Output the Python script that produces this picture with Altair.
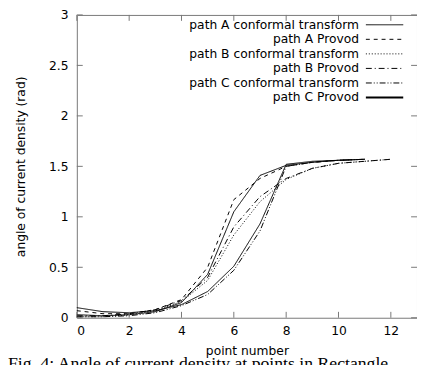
import altair as alt
import pandas as pd

series_names = [
    "path A conformal transform",
    "path A Provod",
    "path B conformal transform",
    "path B Provod",
    "path C conformal transform",
    "path C Provod",
]
x_A = list(range(12))
x_B = list(range(13))
x_C = list(range(12))
a_conf = [0.03, 0.02, 0.03, 0.06, 0.15, 0.43, 1.05, 1.41, 1.51, 1.54, 1.56, 1.57]
a_prov = [0.07, 0.04, 0.04, 0.08, 0.18, 0.50, 1.17, 1.38, 1.50, 1.54, 1.56, 1.57]
b_conf = [0.01, 0.01, 0.03, 0.07, 0.16, 0.37, 0.82, 1.15, 1.37, 1.48, 1.53, 1.55, 1.57]
b_prov = [0.02, 0.02, 0.04, 0.08, 0.17, 0.40, 0.90, 1.20, 1.38, 1.48, 1.53, 1.55, 1.57]
c_conf = [0.01, 0.01, 0.02, 0.05, 0.12, 0.23, 0.47, 0.86, 1.50, 1.54, 1.56, 1.57]
c_prov = [0.10, 0.06, 0.05, 0.07, 0.13, 0.26, 0.51, 0.93, 1.52, 1.55, 1.56, 1.57]

x_ticks = [0, 2, 4, 6, 8, 10, 12]
y_ticks = [0, 0.5, 1, 1.5, 2, 2.5, 3]

dashes = [[1, 0], [4, 4], [1, 2], [6, 3, 1, 3], [6, 2, 1, 2, 1, 2], [1, 0]]
widths = [1, 1, 1, 1, 1, 2]

caption = "Fig. 4: Angle of current density at points in Rectangle"

rows = []
for name, xs, ys in zip(series_names,
                        [x_A, x_A, x_B, x_B, x_C, x_C],
                        [a_conf, a_prov, b_conf, b_prov, c_conf, c_prov]):
    for xv, yv in zip(xs, ys):
        rows.append({"series": name, "x": xv, "y": yv})
df = pd.DataFrame(rows)

W, H = 346, 308
TOP, BOTTOM = 4, 45
FONT = "DejaVu Sans"
FRAME = "#777777"

xscale = alt.Scale(domain=[0, 13], nice=False, zero=False)
yscale = alt.Scale(domain=[0, 3], nice=False, zero=False)
xaxis = alt.Axis(title="point number", values=x_ticks, format="d")
yaxis = alt.Axis(title="angle of current density (rad)", values=y_ticks, format="~g")

lines = alt.Chart(df).mark_line(color="black", strokeCap="butt").encode(
    x=alt.X("x:Q", scale=xscale, axis=xaxis),
    y=alt.Y("y:Q", scale=yscale, axis=yaxis),
    strokeDash=alt.StrokeDash("series:N", scale=alt.Scale(domain=series_names, range=dashes), legend=None),
    strokeWidth=alt.StrokeWidth("series:N", scale=alt.Scale(domain=series_names, range=widths), legend=None),
    detail="series:N",
)

xt = pd.DataFrame({"x": x_ticks})
yt = pd.DataFrame({"y": y_ticks})
TL = 6
tick_bottom = alt.Chart(xt).mark_rule(color=FRAME).encode(
    x=alt.X("x:Q", scale=xscale, axis=xaxis), y=alt.value(H), y2=alt.value(H - TL))
tick_top = alt.Chart(xt).mark_rule(color=FRAME).encode(
    x=alt.X("x:Q", scale=xscale, axis=xaxis), y=alt.value(0), y2=alt.value(TL))
tick_left = alt.Chart(yt).mark_rule(color=FRAME).encode(
    y=alt.Y("y:Q", scale=yscale, axis=yaxis), x=alt.value(0), x2=alt.value(TL))
tick_right = alt.Chart(yt).mark_rule(color=FRAME).encode(
    y=alt.Y("y:Q", scale=yscale, axis=yaxis), x=alt.value(W), x2=alt.value(W - TL))

one = pd.DataFrame({"a": [0]})
legend_layers = []
for i, name in enumerate(series_names):
    ly = 10 + i * 14.8
    legend_layers.append(
        alt.Chart(one).mark_text(text=name, align="right", baseline="middle",
                                 font=FONT, fontSize=12.5, color="black").encode(
            x=alt.value(287), y=alt.value(ly)))
    legend_layers.append(
        alt.Chart(one).mark_rule(color="black", strokeDash=dashes[i], strokeWidth=widths[i],
                                 strokeCap="butt").encode(
            x=alt.value(294), x2=alt.value(332), y=alt.value(ly)))

cap = alt.Chart(one).mark_text(text=caption, align="left", baseline="alphabetic",
                               font="Liberation Serif", fontSize=18, color="black").encode(
    x=alt.value(-70), y=alt.value(360))

chart = alt.layer(lines, tick_bottom, tick_top, tick_left, tick_right, *legend_layers, cap).properties(
    width=W, height=H,
    autosize=alt.AutoSizeParams(type="none"),
    padding={"left": 70, "top": TOP, "right": 0, "bottom": BOTTOM},
).configure_view(stroke=FRAME, strokeWidth=1).configure_axis(
    domain=False, ticks=False, grid=False,
    labelFont=FONT, labelFontSize=12.5, labelColor="black",
    titleFont=FONT, titleFontSize=12.5, titleFontWeight="normal", titleColor="black",
).configure_axisX(labelPadding=7, titlePadding=8).configure_axisY(labelPadding=9, titlePadding=21)

chart.save("out.html", embed_options={"renderer": "svg", "actions": False})
